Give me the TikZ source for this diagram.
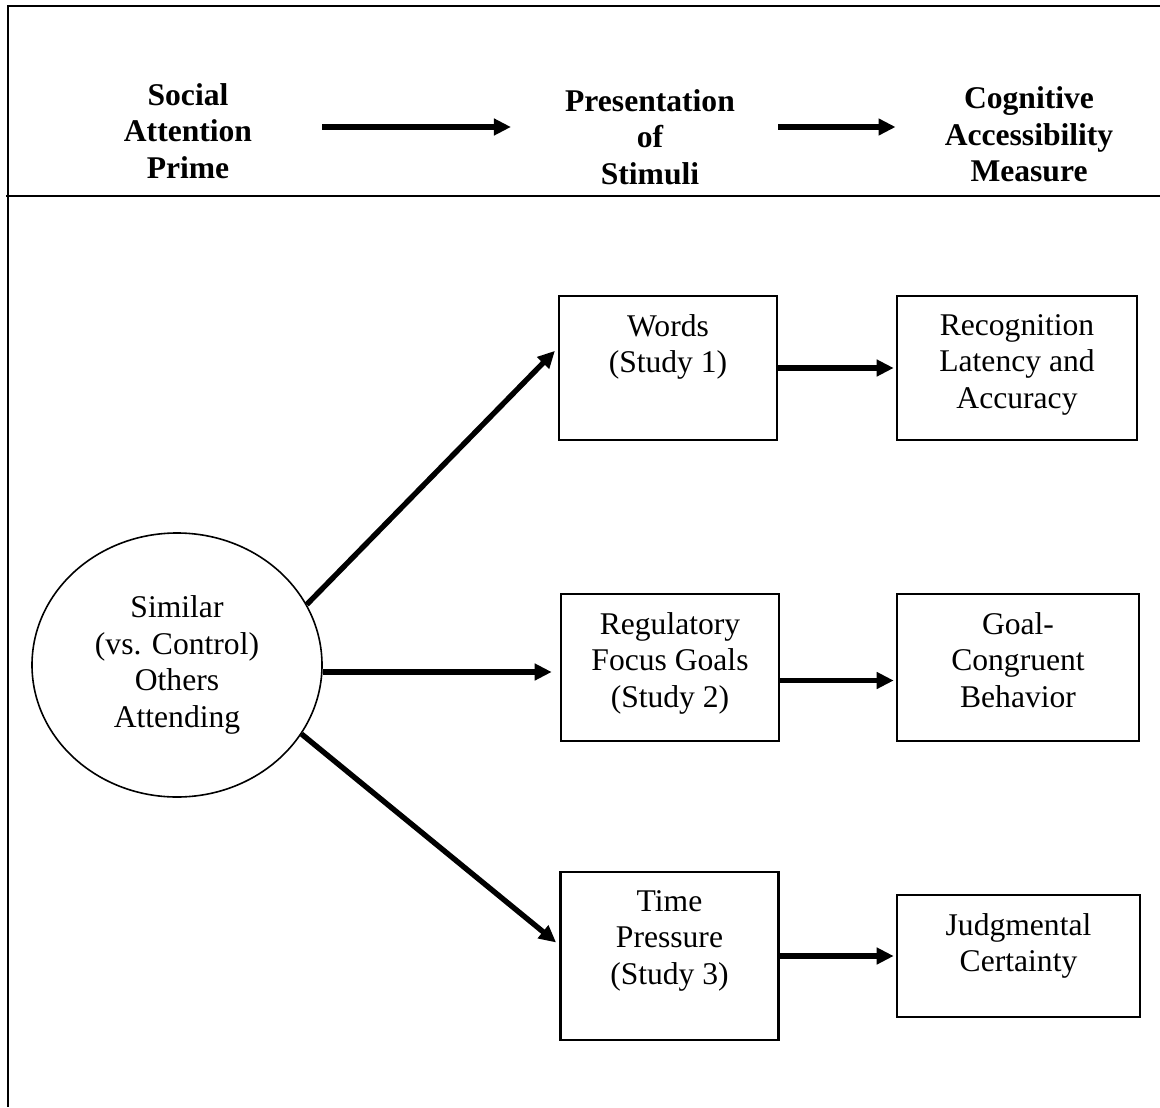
\documentclass[tikz,border=0pt]{standalone}
\usepackage{fontspec}
\setmainfont{Liberation Serif}
\usetikzlibrary{arrows.meta,shapes.geometric}

\begin{document}
\begin{tikzpicture}
      [x=.5pt, y=-.5pt, line width=1.2pt,
       font=\fontsize{15.8}{18.3}\selectfont,
       head/.style={font=\fontsize{15.8}{18.3}\selectfont\bfseries, align=center, inner sep=0pt},
       box/.style={draw, line width=1.3pt, minimum width=109pt},
       txt/.style={anchor=north, align=center, inner sep=0pt, yshift=-9.2pt},
       arr/.style={line width=2.7pt, -{Triangle[length=8.5pt,width=8pt]}}]
      \useasboundingbox (0,0) rectangle (1160,1107);
      \draw (1160,6) -- (8,6) -- (8,1107);
      \draw (6,196) -- (1160,196);
      % header row
      \coordinate (hdr) at (0,127);
      \node[head] (prime) at (188,131) {Social\\Attention\\Prime};
      \node[head] (stimuli) at (650,137) {Presentation\\of\\Stimuli};
      \node[head] (measure) at (1029,134.5) {Cognitive\\Accessibility\\Measure};
      \draw[arr, shorten <=34.5pt, shorten >=26.5pt] (prime.east |- hdr) -- (stimuli.west |- hdr);
      \draw[arr, shorten <=21pt, shorten >=24pt] (stimuli.east |- hdr) -- (measure.west |- hdr);
      % prime
      \node[ellipse, draw, line width=.8pt, minimum width=145pt, minimum height=132pt, align=center]
        (others) at (177,665) {Similar\\(vs. Control)\\Others\\Attending};
      % stimuli
      \node[box, minimum height=72pt, label={[txt]north:Words\\(Study 1)}] (words) at (668,368) {};
      \node[box, minimum height=73.5pt, label={[txt]north:Regulatory\\Focus Goals\\(Study 2)}] (focus) at (670,667.5) {};
      \node[box, minimum height=84pt, label={[txt]north:Time\\Pressure\\(Study 3)}] (time) at (669.5,956) {};
      % measures
      \node[box, minimum width=120pt, minimum height=72pt, label={[txt]north:Recognition\\Latency and\\Accuracy}] (recog) at (1017,368) {};
      \node[box, minimum width=121pt, minimum height=73.5pt, label={[txt]north:Goal-\\Congruent\\Behavior}] (goal) at (1018,667.5) {};
      \node[box, minimum width=121.5pt, minimum height=61pt, label={[txt]north:Judgmental\\Certainty}] (judge) at (1018.5,956) {};
      % arrows
      \draw[arr, shorten >=2pt] (others.25) -- ([yshift=10pt]words.west);
      \draw[arr, shorten >=4pt] ([yshift=-3.5pt]others.east) -- ([yshift=-3.5pt]others.east -| focus.west);
      \draw[arr, shorten >=2pt] (others.-29) -- ([yshift=5.5pt]time.west);
      \foreach \a/\b in {words/recog, time/judge}
        \draw[arr, shorten >=1pt] (\a.east) -- (\b.west);
      \draw[arr, shorten >=1pt] ([yshift=-6.5pt]focus.east) -- ([yshift=-6.5pt]focus.east -| goal.west);
      \end{tikzpicture}
\end{document}
